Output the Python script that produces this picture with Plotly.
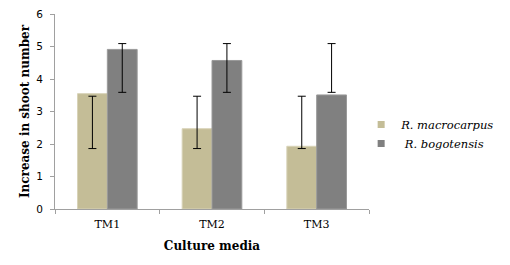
import plotly.graph_objects as go

categories = ["TM1", "TM2", "TM3"]
macro_vals = [3.55, 2.47, 1.93]
bogo_vals = [4.91, 4.57, 3.51]
macro_err_top = [3.47, 3.47, 3.47]
macro_err_bot = [1.86, 1.86, 1.86]
bogo_err_top = [5.09, 5.09, 5.09]
bogo_err_bot = [3.59, 3.59, 3.59]
y_ticks = [0, 1, 2, 3, 4, 5, 6]
series_names = ["R. macrocarpus", " R. bogotensis"]
colors = ["#C4BD97", "#808080"]

def err(vals, top, bot):
    return dict(type="data", symmetric=False,
                array=[t - v for t, v in zip(top, vals)],
                arrayminus=[v - b for b, v in zip(bot, vals)],
                color="black", thickness=1, width=4)

fig = go.Figure()
fig.add_trace(go.Bar(x=categories, y=macro_vals, name=series_names[0], showlegend=False,
                     marker=dict(color=colors[0], line=dict(color="#D8D3B8", width=1)),
                     error_y=err(macro_vals, macro_err_top, macro_err_bot)))
fig.add_trace(go.Bar(x=categories, y=bogo_vals, name=series_names[1], showlegend=False,
                     marker=dict(color=colors[1], line=dict(color="#9A9A9A", width=1)),
                     error_y=err(bogo_vals, bogo_err_top, bogo_err_bot)))
for nm, c in zip(series_names, colors):
    fig.add_trace(go.Scatter(x=[None], y=[None], mode="markers", name="<i>" + nm + "</i>",
                             marker=dict(symbol="square", size=7, color=c)))

# page body has an 8px margin, so the figure is 8px smaller and offsets shifted
fig.update_layout(
    width=502, height=257,
    margin=dict(l=47, r=141, t=6, b=56, autoexpand=False),
    paper_bgcolor="white", plot_bgcolor="white",
    barmode="group", bargap=0.43, bargroupgap=0,
    showlegend=True,
    legend=dict(x=0.975, y=0.385, xanchor="left", yanchor="middle",
                font=dict(family="DejaVu Serif", size=11.5, color="black"),
                itemwidth=30, tracegroupgap=2, bgcolor="rgba(0,0,0,0)"),
    xaxis=dict(showline=True, linecolor="#A0A0A0", linewidth=1, automargin=False,
               ticks="outside", tickson="boundaries", ticklen=4, tickcolor="#A0A0A0",
               ticklabelstandoff=5, ticklabeloverflow="allow",
               tickfont=dict(family="DejaVu Serif", size=11, color="black"),
               title=dict(text="<b>Culture media</b>", standoff=11,
                          font=dict(family="DejaVu Serif", size=12, color="black"))),
    yaxis=dict(range=[0, 6], tickvals=y_ticks, showgrid=False, zeroline=False,
               showline=True, linecolor="#A0A0A0", linewidth=1, automargin=False,
               ticks="outside", ticklen=4, tickcolor="#A0A0A0",
               ticklabelstandoff=5, ticklabeloverflow="allow",
               tickfont=dict(family="DejaVu Sans", size=10.5, color="black"),
               title=dict(text="<b>Increase in shoot number</b>", standoff=4,
                          font=dict(family="DejaVu Serif", size=12, color="black"))),
)

fig.write_html("out.html")
